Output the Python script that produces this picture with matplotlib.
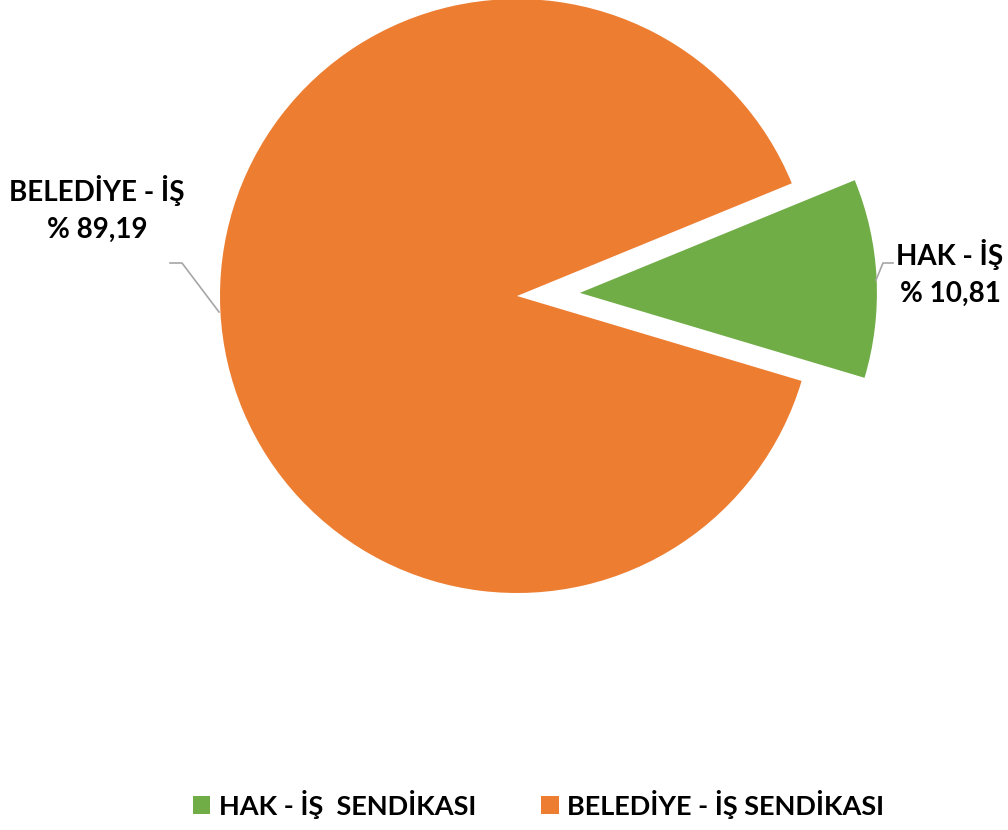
import matplotlib
matplotlib.use("Agg")
import matplotlib.pyplot as plt

labels = ["HAK - İŞ", "BELEDİYE - İŞ"]
legend_labels = ["HAK - İŞ  SENDİKASI", "BELEDİYE - İŞ SENDİKASI"]
shares = [10.81, 89.19]
colors = ["#70AD47", "#ED7D31"]

plt.rcParams["font.family"] = ["Lato", "DejaVu Sans"]

W, H = 1008, 830
fig = plt.figure(figsize=(W / 100, H / 100), dpi=100)
ax = fig.add_axes([0, 0, 1, 1])
ax.set_xlim(0, W)
ax.set_ylim(0, H)
ax.set_aspect("equal")
ax.axis("off")

cx, cy, r = 517, H - 296, 297
wedges, _ = ax.pie(shares, colors=colors, startangle=22.3, counterclock=False,
                   explode=[63, 0], center=(cx, cy), radius=r,
                   wedgeprops=dict(linewidth=0))
ax.set_xlim(0, W)
ax.set_ylim(0, H)

# data labels with leader lines
ax.plot([876, 883, 893], [H - 280, H - 263, H - 263], color="#A6A6A6", lw=1.2)
ax.plot([170, 182, 219], [H - 263, H - 263, H - 312], color="#A6A6A6", lw=1.2)

txt = dict(fontsize=20, fontweight="bold", ha="center", va="center", linespacing=1.5)
ax.text(950, H - 273, f"{labels[0]}\n% {shares[0]:.2f}".replace(".", ","), **txt)
ax.text(97, H - 209, f"{labels[1]}\n% {shares[1]:.2f}".replace(".", ","), **txt)

fig.legend(wedges, legend_labels, loc="center", bbox_to_anchor=(0.534, 0.031),
           ncol=2, frameon=False, prop=dict(size=19.5, weight="bold"),
           handlelength=0.65, handleheight=0.65, handletextpad=0.3, columnspacing=2.4)

fig.savefig("out.png", dpi=100)
